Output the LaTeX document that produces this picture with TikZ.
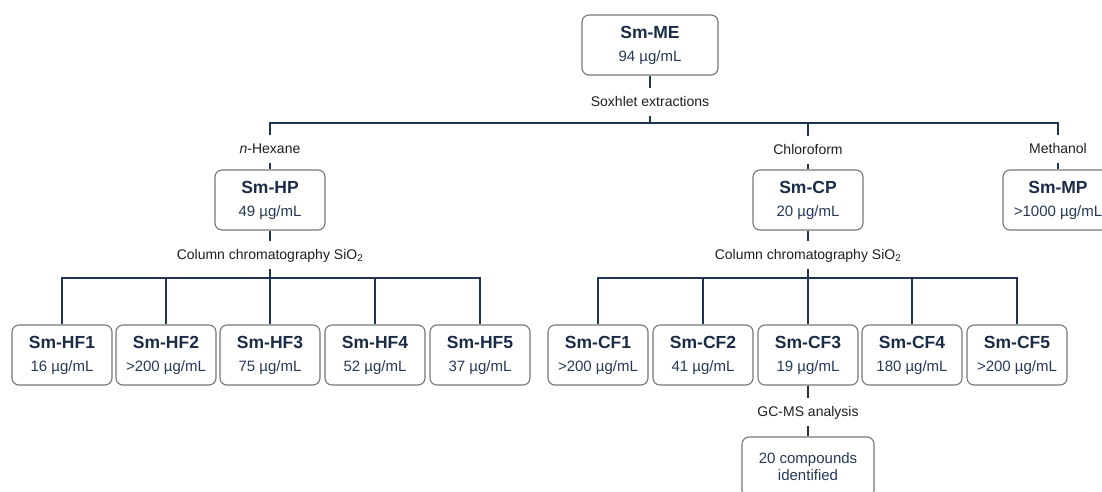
\documentclass[tikz,border=0pt]{standalone}
\usepackage{fontspec}
\setmainfont{Liberation Sans}
\usepackage{tikz}
\usetikzlibrary{positioning}
\definecolor{navy}{RGB}{31,52,80}
\definecolor{boxline}{RGB}{118,118,118}
\definecolor{namec}{RGB}{26,44,70}
\definecolor{valc}{RGB}{38,58,88}
\definecolor{lblc}{RGB}{30,30,30}
\newcommand{\smname}[1]{{\fontsize{17.5}{23}\selectfont\bfseries\color{namec}#1}}

\begin{document}
\begin{tikzpicture}[x=1pt, y=-1pt,
  box/.style={draw=boxline, line width=1.1pt, rounded corners=7pt, fill=white, align=center, inner sep=0pt,
    minimum height=60pt, text=valc, font=\fontsize{15}{23}\selectfont},
  frac/.style={box, minimum width=100pt},
  mid/.style={box, minimum width=110pt},
  lbl/.style={font=\fontsize{14}{16}\selectfont, text=lblc, anchor=base, text height=11pt, text depth=3pt,
    inner ysep=7pt, inner xsep=2pt},
  link/.style={draw=navy, line width=2pt}]
  \useasboundingbox (0,0) rectangle (1102,491);
  % crude extract
  \node[box, minimum width=136pt] (me) at (650,45) {\smname{Sm-ME}\\94 µg/mL};
  \node[lbl] (sox) at (650,106) {Soxhlet extractions};
  \coordinate (t) at (650,123);
  % solvent partitions
  \node[lbl] (hexl) at (270,153) {\textit{n}-Hexane};
  \node[lbl] (chlo) at (808,154) {Chloroform};
  \node[lbl] (methl) at (1058,153) {Methanol};
  \node[mid] (hp) at (270,200) {\smname{Sm-HP}\\49 µg/mL};
  \node[mid] (cp) at (808,200) {\smname{Sm-CP}\\20 µg/mL};
  \node[mid] (mp) at (1058,200) {\smname{Sm-MP}\\>1000 µg/mL};
  \node[lbl] (col1) at (270,259) {Column chromatography SiO\textsubscript{2}};
  \node[lbl] (col2) at (808,259) {Column chromatography SiO\textsubscript{2}};
  \coordinate (hb) at (270,278);
  \coordinate (cb) at (808,278);
  % hexane fractions
  \node[frac] (hf1) at (62,355) {\smname{Sm-HF1}\\16 µg/mL};
  \node[frac] (hf2) at (166,355) {\smname{Sm-HF2}\\>200 µg/mL};
  \node[frac] (hf3) at (270,355) {\smname{Sm-HF3}\\75 µg/mL};
  \node[frac] (hf4) at (375,355) {\smname{Sm-HF4}\\52 µg/mL};
  \node[frac] (hf5) at (480,355) {\smname{Sm-HF5}\\37 µg/mL};
  % chloroform fractions
  \node[frac] (cf1) at (598,355) {\smname{Sm-CF1}\\>200 µg/mL};
  \node[frac] (cf2) at (703,355) {\smname{Sm-CF2}\\41 µg/mL};
  \node[frac] (cf3) at (808,355) {\smname{Sm-CF3}\\19 µg/mL};
  \node[frac] (cf4) at (912,355) {\smname{Sm-CF4}\\180 µg/mL};
  \node[frac] (cf5) at (1017,355) {\smname{Sm-CF5}\\>200 µg/mL};
  % GC-MS
  \node[lbl] (gcms) at (808,416) {GC-MS analysis};
  \node[box, minimum width=132pt, font=\fontsize{15}{17}\selectfont] (gc) at (808,467) {20 compounds\\identified};
  % connectors
  \draw[link] (me) -- (sox);
  \draw[link] (sox) -- (t);
  \draw[link] (hexl) -- (hexl |- t) -- (methl |- t) -- (methl);
  \draw[link] (chlo |- t) -- (chlo);
  \draw[link] (hexl) -- (hp);
  \draw[link] (chlo) -- (cp);
  \draw[link] (methl) -- (mp);
  \draw[link] (hp) -- (col1);
  \draw[link] (col1) -- (hb);
  \draw[link] (cp) -- (col2);
  \draw[link] (col2) -- (cb);
  \draw[link] (hf1) -- (hf1 |- hb) -- (hf5 |- hb) -- (hf5);
  \draw[link] (hf2 |- hb) -- (hf2);
  \draw[link] (hb) -- (hf3);
  \draw[link] (hf4 |- hb) -- (hf4);
  \draw[link] (cf1) -- (cf1 |- cb) -- (cf5 |- cb) -- (cf5);
  \draw[link] (cf2 |- cb) -- (cf2);
  \draw[link] (cb) -- (cf3);
  \draw[link] (cf4 |- cb) -- (cf4);
  \draw[link] (cf3) -- (gcms);
  \draw[link] (gcms) -- (gc);
\end{tikzpicture}
\end{document}
